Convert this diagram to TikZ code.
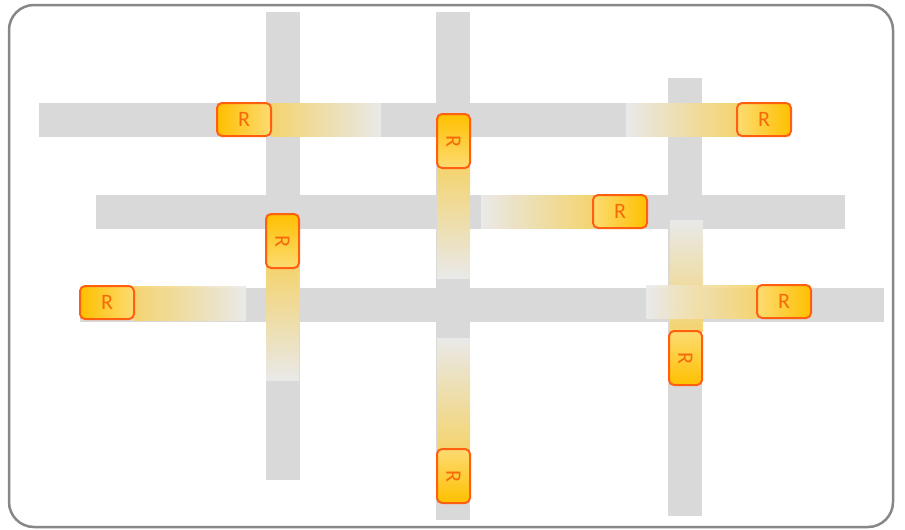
\documentclass[tikz,border=0pt]{standalone}
\usepackage{fontspec}
\setmainfont{Carlito}
\begin{document}
\begin{tikzpicture}[x=1pt,y=-1pt,
  bar/.style={fill=barg,draw=none},
  rnode/.style={draw=rborder,line width=2pt,rounded corners=5pt,inner sep=0pt,
     text=rtext,font=\fontsize{22}{22}\selectfont},
  hnode/.style={rnode,minimum width=54pt,minimum height=33pt},
  vnode/.style={rnode,minimum width=33pt,minimum height=54pt},
  strip/.style={draw=none,opacity=0.9}]
\definecolor{barg}{HTML}{D9D9D9}
\definecolor{frameg}{HTML}{878787}
\definecolor{rborder}{HTML}{FE6010}
\definecolor{rtext}{HTML}{F56A0A}
\definecolor{ydark}{HTML}{FFC000}
\definecolor{ylight}{HTML}{FCDB72}
\definecolor{sy}{HTML}{F7D365}
\definecolor{sg}{HTML}{EBEBEB}
\useasboundingbox (0,0) rectangle (905,530);
\draw[frameg,line width=2.5pt,rounded corners=25pt,fill=white] (9,5) rectangle (893,527);
% gray bars
\fill[bar] (266,12) rectangle (300,480);
\fill[bar] (436,12) rectangle (470,520);
\fill[bar] (668,78) rectangle (702,516);
\fill[bar] (39,103) rectangle (790,137);
\fill[bar] (96,195) rectangle (845,229);
\fill[bar] (80,288) rectangle (884,322);
% gradient strips
\shade[strip,left color=sy,right color=sg] (271,103) rectangle (381,136);
\shade[strip,top color=sy,bottom color=sg] (437,168) rectangle (470,278);
\shade[strip,left color=sg,right color=sy] (481,195) rectangle (593,228);
\shade[strip,left color=sg,right color=sy] (626,103) rectangle (737,136);
\shade[strip,top color=sy,bottom color=sg] (266,268) rectangle (299,380);
\shade[strip,left color=sy,right color=sg] (134,286) rectangle (246,320);
\shade[strip,top color=sg,bottom color=sy] (670,220) rectangle (703,331);
\shade[strip,left color=sg,right color=sy] (646,285) rectangle (757,318);
\shade[strip,top color=sg,bottom color=sy] (437,338) rectangle (470,449);
% R nodes
\node[hnode,left color=ydark,right color=ylight] (n1) at (244,119.5) {R};
\node[vnode,top color=ydark,bottom color=ylight] (n2) at (453.5,141) {\rotatebox{-90}{R}};
\node[hnode,left color=ylight,right color=ydark] (n3) at (620,211.5) {R};
\node[hnode,left color=ylight,right color=ydark] (n4) at (764,119.5) {R};
\node[vnode,top color=ydark,bottom color=ylight] (n5) at (282.5,241) {\rotatebox{-90}{R}};
\node[hnode,left color=ydark,right color=ylight] (n6) at (107,302.5) {R};
\node[vnode,top color=ylight,bottom color=ydark] (n7) at (685.5,358) {\rotatebox{-90}{R}};
\node[hnode,left color=ylight,right color=ydark] (n8) at (784,301.5) {R};
\node[vnode,top color=ylight,bottom color=ydark] (n9) at (453.5,476) {\rotatebox{-90}{R}};
\end{tikzpicture}
\end{document}
